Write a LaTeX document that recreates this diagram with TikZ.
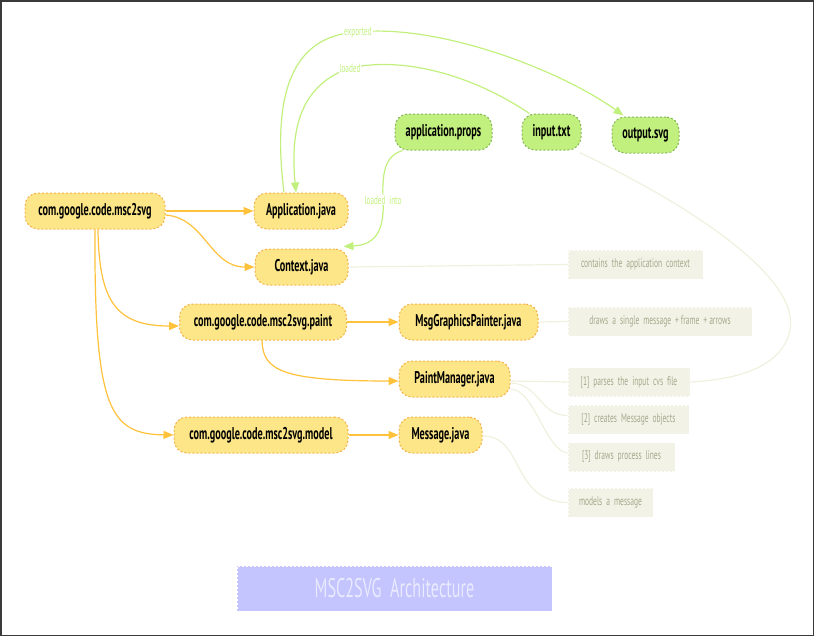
\documentclass[tikz,border=0pt]{standalone}
\usepackage{fontspec}
\usetikzlibrary{arrows.meta}
\newfontfamily\nodefont[FakeStretch=0.6]{PT Sans}
\newfontfamily\notefont[FakeStretch=0.6]{PT Sans}
\definecolor{yfill}{HTML}{FCE688}
\definecolor{ydraw}{HTML}{F5B14A}
\definecolor{yedge}{HTML}{FFC23A}
\definecolor{gfill}{HTML}{C2F07E}
\definecolor{gdraw}{HTML}{86B45A}
\definecolor{gedge}{HTML}{C2F07E}
\definecolor{nfill}{HTML}{F2F3E6}
\definecolor{ntext}{HTML}{A6A88C}
\definecolor{nedge}{HTML}{F0F0DE}
\definecolor{tfill}{HTML}{C4C4FF}
\definecolor{ttext}{HTML}{EAEAFF}
\definecolor{frame}{HTML}{3A3A3A}
\tikzset{
  pkg/.style={draw=ydraw, fill=yfill, dashed, dash pattern=on 2pt off 2pt, line width=1pt,
    rounded corners=13pt, minimum height=36pt, inner sep=0pt,
    font=\nodefont\bfseries\fontsize{17}{19}\selectfont, text=black},
  res/.style={draw=gdraw, fill=gfill, dashed, dash pattern=on 2pt off 2pt, line width=1pt,
    rounded corners=13pt, minimum height=36pt, inner sep=0pt,
    font=\nodefont\bfseries\fontsize{17}{19}\selectfont, text=black},
  note/.style={draw=white, fill=nfill, dashed, dash pattern=on 2pt off 2pt, line width=0.8pt,
    minimum height=29pt, inner sep=0pt, text=ntext,
    font=\notefont\fontsize{12.5}{14}\selectfont},
  yarrow/.style={draw=yedge, line width=1.2pt, -{Triangle[length=10pt,width=8pt]}},
  garrow/.style={draw=gedge, line width=1.2pt, -{Triangle[length=10pt,width=8pt]}},
  nline/.style={draw=nedge, line width=1.2pt},
  glabel/.style={fill=white, text=gedge, inner sep=1pt, font=\notefont\fontsize{12}{13}\selectfont},
  title/.style={draw=white, fill=tfill, dashed, dash pattern=on 2pt off 2pt, line width=0.8pt,
    minimum width=315pt, minimum height=45pt, text=ttext,
    font=\notefont\fontsize{27}{30}\selectfont}
}
\begin{document}
\begin{tikzpicture}[x=1pt,y=-1pt]
\useasboundingbox (0,0) rectangle (815,637);
\draw[frame, line width=1.5pt] (0.75,0.75) rectangle (813.5,635.5);

% package / class nodes
\node[pkg, minimum width=140pt] (root) at (95,211) {com.google.code.msc2svg};
\node[pkg, minimum width=94pt] (app) at (301,211) {Application.java};
\node[pkg, minimum width=93pt] (ctx) at (301.5,267) {Context.java};
\node[pkg, minimum width=167pt] (paint) at (263,322) {com.google.code.msc2svg.paint};
\node[pkg, minimum width=139pt] (mgp) at (468.5,322) {MsgGraphicsPainter.java};
\node[pkg, minimum width=111pt] (pm) at (454.5,379) {PaintManager.java};
\node[pkg, minimum width=174pt] (model) at (261,435) {com.google.code.msc2svg.model};
\node[pkg, minimum width=83pt] (msg) at (440.5,435) {Message.java};

% resources
\node[res, minimum width=97pt] (props) at (443.5,132) {application.props};
\node[res, minimum width=59pt] (inp) at (551.5,132) {input.txt};
\node[res, minimum width=67pt] (out) at (645.5,135) {output.svg};

% notes
\node[note, minimum width=135pt] (n1) at (635.5,264.5) {contains\ \ the\ \ application\ \ context};
\node[note, minimum width=184pt] (n2) at (660,321.5) {draws\ \ a\ \ single\ \ message\ \ +\ frame\ \ +\ arrows};
\node[note, minimum width=122pt] (n3) at (629,382) {[1]\ \ parses\ \ the\ \ input\ \ cvs\ \ file};
\node[note, minimum width=121pt] (n4) at (628.5,419.5) {[2]\ \ creates\ \ Message\ \ objects};
\node[note, minimum width=107pt] (n5) at (621.5,457) {[3]\ \ draws\ \ process\ \ lines};
\node[note, minimum width=85pt] (n6) at (610.5,502.5) {models\ \ a\ \ message};

% title
\node[title] (ttl) at (394.5,588.5) {MSC2SVG\ \ Architecture};

% note connectors
\draw[nline] (ctx.east) -- (n1.west);
\draw[nline] (mgp.east) -- (n2.west);
\draw[nline] ([yshift=-2pt]pm.east) -- (n3.west);
\draw[nline] ([yshift=-4pt]pm.east) .. controls (540,384) and (540,416) .. ([yshift=4pt]n4.west);
\draw[nline] ([yshift=-10pt]pm.east) .. controls (535,390) and (545,450) .. ([yshift=4pt]n5.west);
\draw[nline] ([yshift=-1pt]msg.east) .. controls (525,436) and (510,501) .. (n6.west);
\draw[nline] ([xshift=-2pt,yshift=-2pt]inp.south east) .. controls (700,210) and (800,280) .. (790,330)
  .. controls (782,370) and (730,380) .. (n3.east);

% yellow arrows
\draw[yarrow] (root.east) -- (app.west);
\draw[yarrow] ([yshift=-4pt]root.east) .. controls (205,218) and (210,267) .. (ctx.west);
\draw[yarrow] ([xshift=3pt]root.south) .. controls (99,300) and (115,326) .. ([yshift=-4pt]paint.west);
\draw[yarrow] (root.south) .. controls (94,410) and (110,434) .. (model.west);
\draw[yarrow] (paint.east) -- (mgp.west);
\draw[yarrow] ([xshift=-1pt]paint.south) .. controls (263,370) and (280,381) .. ([yshift=-2pt]pm.west);
\draw[yarrow] (model.east) -- (msg.west);

% green arrows
\draw[garrow] ([xshift=-17pt]app.north) .. controls (270,80) and (300,35) .. node[pos=1, glabel] (lex) {exported} (358,32)
  .. controls (440,24) and (560,70) .. ([xshift=-22pt,yshift=1pt]out.north);
\draw[garrow] ([xshift=-22pt]inp.north) .. controls (480,80) and (410,55) .. node[pos=1, glabel] (lld) {loaded} (350,68)
  .. controls (300,85) and (290,130) .. ([xshift=-5pt]app.north);
\draw[garrow] ([xshift=8pt]props.south west) .. controls (385,156) and (382,172) .. node[pos=1, glabel] (lli) {loaded\ \ into} (383,200)
  .. controls (385,235) and (372,245) .. ([xshift=-5pt,yshift=2pt]ctx.north east);
\end{tikzpicture}
\end{document}
